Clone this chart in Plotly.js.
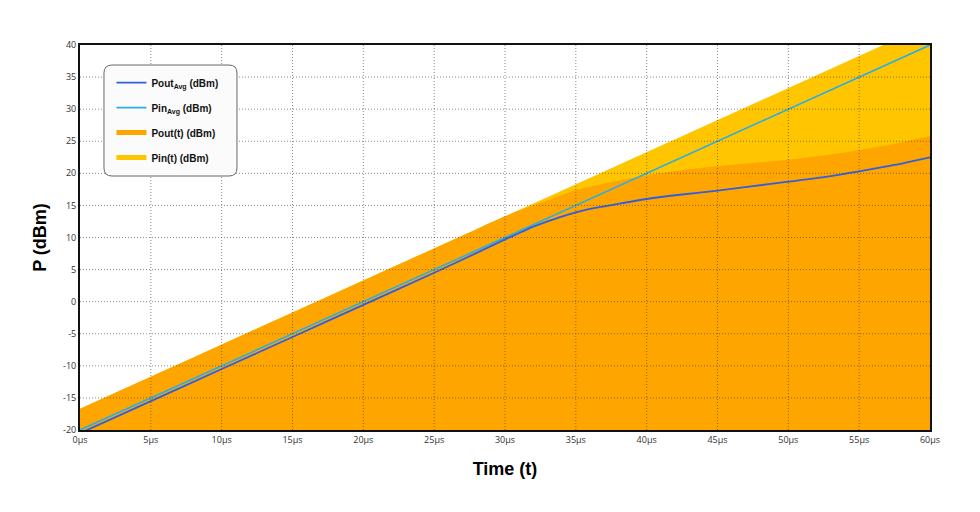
<!DOCTYPE html>
<html>
<head>
<meta charset="utf-8">
<script src="https://cdn.plot.ly/plotly-3.0.1.min.js"></script>
<style>
  html, body { margin: 0; padding: 0; background: #ffffff; }
  #chart { width: 980px; height: 512px; }
</style>
</head>
<body>
<div id="chart"></div>
<script>
// time axis (µs)
const time = [0, 5, 10, 15, 20, 25, 28, 30, 31, 32, 33, 34, 35, 36, 37, 38, 40, 42.5, 45, 47.5, 50, 52.5, 55, 57.5, 60];

// average powers (dBm)
const pinAvg = [-20, -15, -10, -5, 0, 5, 8, 10, 11, 12, 13, 14, 15, 16, 17, 18, 20, 22.5, 25, 27.5, 30, 32.5, 35, 37.5, 40];
const poutAvg = [-20.5, -15.5, -10.5, -5.5, -0.5, 4.5, 7.6, 9.7, 10.7, 11.7, 12.5, 13.25, 13.9, 14.45, 14.85, 15.25, 16.0, 16.7, 17.3, 18.0, 18.7, 19.4, 20.3, 21.3, 22.5];

// instantaneous envelope peaks (dBm)
const pinT = [-16.7, -11.7, -6.7, -1.7, 3.3, 8.3, 11.3, 13.3, 14.3, 15.3, 16.3, 17.3, 18.3, 19.3, 20.3, 21.3, 23.3, 25.8, 28.3, 30.8, 33.3, 35.8, 38.3, 40.8, 43.3];
const poutT = [-16.7, -11.7, -6.7, -1.7, 3.3, 8.3, 11.3, 13.3, 14.2, 15.0, 15.8, 16.6, 17.4, 17.9, 18.4, 18.85, 19.7, 20.5, 21.1, 21.6, 22.1, 22.8, 23.6, 24.6, 25.8];

const xTicks = [0, 5, 10, 15, 20, 25, 30, 35, 40, 45, 50, 55, 60];
const yTicks = [-20, -15, -10, -5, 0, 5, 10, 15, 20, 25, 30, 35, 40];
const xRange = [0, 60];
const yRange = [-20, 40];

const colors = {
    poutAvg: '#2f5fe0',
    pinAvg: '#2aaee8',
    poutT: '#ffa500',
    pinT: '#ffc600'
};

const floor = time.map(() => yRange[0] - 5);

const traces = [
    { x: time, y: floor, mode: 'lines', line: { width: 0 }, showlegend: false, hoverinfo: 'skip' },
    { x: time, y: pinT, mode: 'lines', fill: 'tonexty', fillcolor: colors.pinT, line: { width: 0 }, showlegend: false },
    { x: time, y: floor, mode: 'lines', line: { width: 0 }, showlegend: false, hoverinfo: 'skip' },
    { x: time, y: poutT, mode: 'lines', fill: 'tonexty', fillcolor: colors.poutT, line: { width: 0, shape: 'spline', smoothing: 0.6 }, showlegend: false },
    { x: time, y: pinAvg, mode: 'lines', name: '<b>Pin<sub>Avg</sub> (dBm)</b>', line: { color: colors.pinAvg, width: 1.6 }, legendrank: 2, legendgroup: 'b' },
    { x: time, y: poutAvg, mode: 'lines', name: '<b>Pout<sub>Avg</sub> (dBm)</b>', line: { color: colors.poutAvg, width: 1.8, shape: 'spline', smoothing: 0.6 }, legendrank: 1, legendgroup: 'a' },
    // legend-only swatches for the filled areas
    { x: [null], y: [null], mode: 'lines', name: '<b>Pout(t) (dBm)</b>', line: { color: colors.poutT, width: 5 }, legendrank: 3, legendgroup: 'c' },
    { x: [null], y: [null], mode: 'lines', name: '<b>Pin(t) (dBm)</b>', line: { color: colors.pinT, width: 5 }, legendrank: 4, legendgroup: 'd' }
];

const gridLine = { color: 'rgba(60,60,60,0.6)', width: 1, dash: '1px,2px' };
const gridShapes = [
    ...xTicks.slice(1, -1).map(v => ({
        type: 'line', xref: 'x', yref: 'paper', x0: v, x1: v, y0: 0, y1: 1, layer: 'above', line: gridLine
    })),
    ...yTicks.slice(1, -1).map(v => ({
        type: 'line', xref: 'paper', yref: 'y', x0: 0, x1: 1, y0: v, y1: v, layer: 'above', line: gridLine
    }))
];

// rounded legend box
const bx0 = 0.0282, bx1 = 0.1847, by0 = 0.6597, by1 = 0.948, rx = 0.0094, ry = 0.0208;
const legendBox = {
    type: 'path', xref: 'paper', yref: 'paper', layer: 'above',
    path: `M ${bx0 + rx} ${by1} L ${bx1 - rx} ${by1} Q ${bx1} ${by1} ${bx1} ${by1 - ry} L ${bx1} ${by0 + ry} Q ${bx1} ${by0} ${bx1 - rx} ${by0} L ${bx0 + rx} ${by0} Q ${bx0} ${by0} ${bx0} ${by0 + ry} L ${bx0} ${by1 - ry} Q ${bx0} ${by1} ${bx0 + rx} ${by1} Z`,
    fillcolor: '#fbfbfb',
    line: { color: '#666666', width: 1 }
};

const layout = {
    width: 980,
    height: 512,
    paper_bgcolor: '#ffffff',
    plot_bgcolor: '#ffffff',
    margin: { l: 80, r: 50, t: 45, b: 82 },
    font: { family: 'Open Sans, Arial, sans-serif', color: '#222222' },
    showlegend: true,
    legend: {
        x: 0.037, y: 0.94, xanchor: 'left', yanchor: 'top',
        bgcolor: 'rgba(0,0,0,0)', borderwidth: 0,
        font: { family: 'Liberation Sans, Arial, sans-serif', size: 10, color: '#111111' },
        tracegroupgap: 6,
        itemwidth: 30
    },
    xaxis: {
        range: xRange,
        tickvals: xTicks,
        ticktext: xTicks.map(v => v + 'μs'),
        showgrid: false,
        zeroline: false,
        showline: true,
        mirror: true,
        linecolor: '#111111',
        linewidth: 2,
        ticks: '',
        tickfont: { size: 9, color: '#333333' },
        title: { text: '<b>Time (t)</b>', font: { family: 'Liberation Sans, Arial, sans-serif', size: 18, color: '#000000' }, standoff: 18 }
    },
    yaxis: {
        range: yRange,
        tickvals: yTicks,
        ticktext: yTicks.map(v => String(v)),
        showgrid: false,
        zeroline: false,
        showline: true,
        mirror: true,
        linecolor: '#111111',
        linewidth: 2,
        ticks: '',
        tickfont: { size: 9, color: '#333333' },
        title: { text: '<b>P (dBm)</b>', font: { family: 'Liberation Sans, Arial, sans-serif', size: 18, color: '#000000' }, standoff: 12 }
    },
    shapes: [...gridShapes, legendBox]
};

Plotly.newPlot('chart', traces, layout, { displayModeBar: false, staticPlot: true });
</script>
</body>
</html>
